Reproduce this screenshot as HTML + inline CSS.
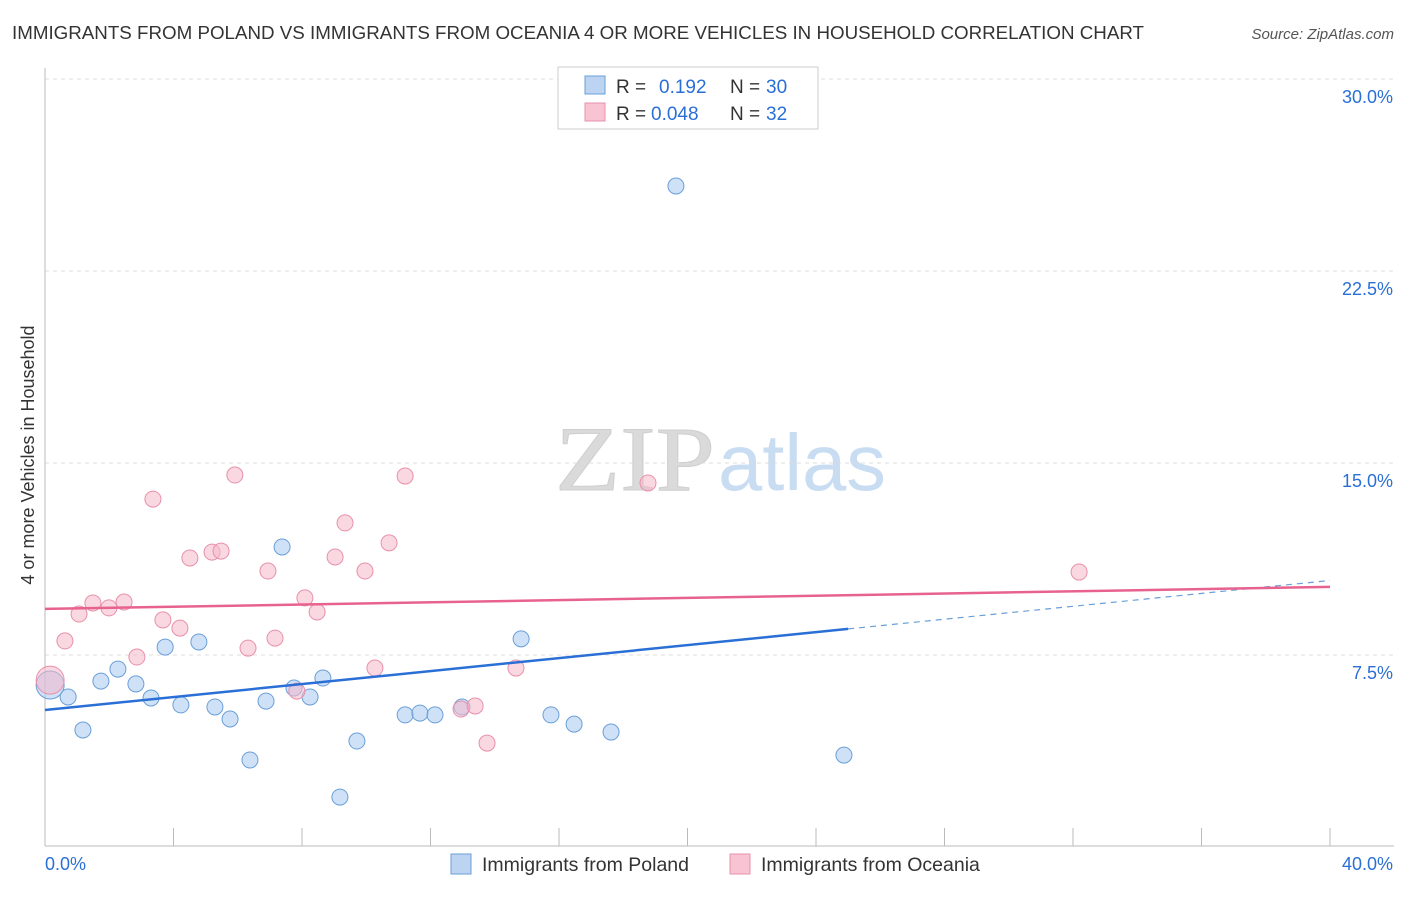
<!DOCTYPE html>
<html><head><meta charset="utf-8"><style>
body{margin:0;background:#fff;font-family:"Liberation Sans",sans-serif;}
</style></head><body>
<svg id="chart" width="1406" height="892" viewBox="0 0 1406 892" xmlns="http://www.w3.org/2000/svg" font-family="Liberation Sans, sans-serif">
<text x="12" y="39" font-size="18" fill="#333" textLength="1132" lengthAdjust="spacingAndGlyphs">IMMIGRANTS FROM POLAND VS IMMIGRANTS FROM OCEANIA 4 OR MORE VEHICLES IN HOUSEHOLD CORRELATION CHART</text>
<text x="1394" y="39" font-size="15" fill="#555" text-anchor="end" font-style="italic">Source: ZipAtlas.com</text>
<text x="555" y="490" font-size="92" fill="#dadada" stroke="#cfcfcf" stroke-width="1" textLength="160" lengthAdjust="spacingAndGlyphs" style="font-family:'Liberation Serif',serif">ZIP</text>
<text x="718" y="490" font-size="80" fill="#c8dcf2" textLength="168" lengthAdjust="spacingAndGlyphs">atlas</text>
<g id="grid"></g>
<g id="axes"></g>
<g id="marks"></g>
<g>
<rect x="558" y="67" width="260" height="62" fill="#fff" stroke="#ccc"/>
<rect x="585" y="76" width="20" height="18" fill="#bcd4f2" stroke="#6a9fd8"/>
<rect x="585" y="103" width="20" height="18" fill="#f8c4d4" stroke="#e890aa"/>
<text x="616" y="93" font-size="19" fill="#333">R = </text><text x="659" y="93" font-size="19" fill="#2a6fd6">0.192</text>
<text x="730" y="93" font-size="19" fill="#333">N = </text><text x="766" y="93" font-size="19" fill="#2a6fd6">30</text>
<text x="616" y="120" font-size="19" fill="#333">R = </text><text x="651" y="120" font-size="19" fill="#2a6fd6">0.048</text>
<text x="730" y="120" font-size="19" fill="#333">N = </text><text x="766" y="120" font-size="19" fill="#2a6fd6">32</text>
</g>
<g>
<rect x="451" y="854" width="20" height="20" fill="#bcd4f2" stroke="#6a9fd8"/>
<text x="482" y="871" font-size="19.5" fill="#333">Immigrants from Poland</text>
<rect x="730" y="854" width="20" height="20" fill="#f8c4d4" stroke="#e890aa"/>
<text x="761" y="871" font-size="19.5" fill="#333">Immigrants from Oceania</text>
</g>
</svg>
<script>
const yTicks=[7.5,15,22.5,30];
const yTickLabels=["7.5%","15.0%","22.5%","30.0%"];
const polandX=[0.16,0.72,1.18,1.74,2.27,2.83,3.30,3.74,4.23,4.79,5.29,5.76,6.38,6.88,7.38,7.75,8.25,8.65,9.18,9.71,11.21,11.67,12.14,12.98,14.82,15.75,16.47,17.62,19.64,24.87];
const polandY=[6.33,5.86,4.57,6.48,6.95,6.37,5.82,7.81,5.55,8.01,5.47,5.00,3.40,5.70,11.72,6.21,5.86,6.60,1.95,4.14,5.16,5.23,5.16,5.47,8.13,5.16,4.80,4.49,25.82,3.59];
const oceaniaX=[0.16,0.62,1.06,1.49,1.99,2.46,2.86,3.36,3.67,4.20,4.51,5.20,5.48,5.91,6.32,6.94,7.16,7.84,8.09,8.47,9.03,9.34,9.96,10.27,10.71,11.21,12.95,13.39,13.76,14.66,18.77,32.19];
const oceaniaY=[6.52,8.05,9.10,9.53,9.34,9.57,7.42,13.59,8.87,8.55,11.29,11.52,11.56,14.53,7.77,10.78,8.16,6.09,9.73,9.18,11.33,12.66,10.78,6.99,11.88,14.49,5.39,5.51,4.06,6.99,14.22,10.74];
const polandTrend=[5.35,8.52,10.41]; // at x=0, 25, 40
const oceaniaTrend=[9.30,10.16]; // at x=0, 40
const NS="http://www.w3.org/2000/svg";
const X=v=>45+v*32.125, Y=v=>847-v*25.6;
function mk(tag,attrs,parent){const e=document.createElementNS(NS,tag);for(const k in attrs)e.setAttribute(k,attrs[k]);parent.appendChild(e);return e;}
const grid=document.getElementById('grid'),axes=document.getElementById('axes'),marks=document.getElementById('marks');
yTicks.forEach((t,i)=>{
 const l=mk('line',{x1:45,x2:1394,y1:Y(t),y2:Y(t),stroke:'#ddd','stroke-dasharray':'4,4'},grid);
 
 
 const tx=mk('text',{x:1393,y:Y(t)+24,'font-size':18,fill:'#2a6fd6','text-anchor':'end'},axes);
 tx.textContent=yTickLabels[i];
 
 
});
const ya=mk('line',{x1:45,x2:45,y1:68,y2:846,stroke:'#bbb'},axes);


const xa=mk('line',{x1:45,x2:1394,y1:846,y2:846,stroke:'#bbb'},axes);


for(let i=1;i<=10;i++){const t=mk('line',{x1:X(i*4),x2:X(i*4),y1:828,y2:846,stroke:'#bbb'},axes);
 
 }
[[0,"0.0%",'start',45],[40,"40.0%",'end',1393]].forEach(a=>{const t=mk('text',{x:a[3],y:870,'font-size':18,fill:'#2a6fd6','text-anchor':a[2]},axes);t.textContent=a[1];
 
 });
const yt=mk('text',{x:34,y:455,'font-size':18,fill:'#333','text-anchor':'middle',transform:'rotate(-90 34 455)'},axes);
yt.textContent='4 or more Vehicles in Household';


function dots(xs,ys,fill,stroke,name){xs.forEach((x,i)=>{const c=mk('circle',{cx:X(x),cy:Y(ys[i]),r:i===0?14:8,fill:fill,'fill-opacity':0.55,stroke:stroke,'stroke-width':1},marks);
 
 });}
dots(polandX,polandY,'#a8c8f0','#6a9fd8','poland-point');
dots(oceaniaX,oceaniaY,'#f5b8cb','#e890aa','oceania-point');
const bl=mk('line',{x1:X(0),y1:Y(polandTrend[0]),x2:X(25),y2:Y(polandTrend[1]),stroke:'#2a6fd6','stroke-width':2.5},marks);


const bd=mk('line',{x1:X(25),y1:Y(polandTrend[1]),x2:X(40),y2:Y(polandTrend[2]),stroke:'#6a9fd8','stroke-width':1.2,'stroke-dasharray':'6,5'},marks);


const pl=mk('line',{x1:X(0),y1:Y(oceaniaTrend[0]),x2:X(40),y2:Y(oceaniaTrend[1]),stroke:'#e8628f','stroke-width':2.5},marks);


</script>
</body></html>
